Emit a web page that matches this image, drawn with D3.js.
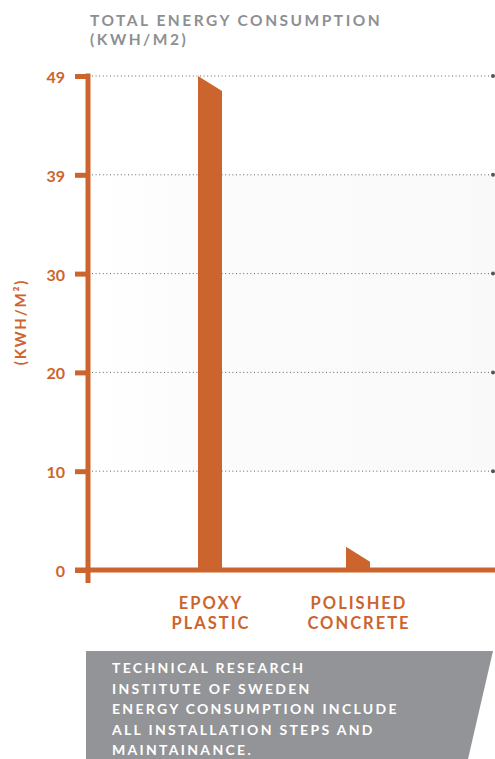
<!DOCTYPE html>
<html>
<head>
<meta charset="utf-8">
<script src="https://cdn.jsdelivr.net/npm/d3@7"></script>
<style>
  html, body { margin: 0; padding: 0; background: #fff; }
  svg { display: block; font-family: Lato, "Open Sans", sans-serif; font-weight: 700; }
</style>
</head>
<body>
<svg id="grafico"></svg>
<script>
// dados do gráfico
const categorias = ['EPOXY PLASTIC', 'POLISHED CONCRETE'];
const rotulosCategoria = [['EPOXY', 'PLASTIC'], ['POLISHED', 'CONCRETE']];
const valores = [49, 2.3];
const ticksValores = [0, 9.8, 19.6, 29.4, 39.2, 49];
const ticksRotulos = ['0', '10', '20', '30', '39', '49'];
const titulo = ['TOTAL ENERGY CONSUMPTION', '(KWH/M2)'];
const rodape = ['TECHNICAL RESEARCH', 'INSTITUTE OF SWEDEN', 'ENERGY CONSUMPTION INCLUDE', 'ALL INSTALLATION STEPS AND', 'MAINTAINANCE.'];

const largura = 495, altura = 759;
const laranja = '#cc642d', cinza = '#8e8f92';

let svg = d3.select('#grafico')
  .attr('width', largura)
  .attr('height', altura);

// escalas
let fnY = d3.scaleLinear().domain([0, 49]).range([570, 76]);
let fnX = d3.scaleBand().domain(categorias).range([136, 432]);
let eixoX = 88;

// fundo levemente cinza
let grad = svg.append('defs').append('linearGradient')
  .attr('id', 'fundo').attr('x1', 0).attr('x2', 1).attr('y1', 0).attr('y2', 0);
grad.append('stop').attr('offset', '0%').attr('stop-color', '#fff');
grad.append('stop').attr('offset', '35%').attr('stop-color', '#fbfbfb');
grad.append('stop').attr('offset', '100%').attr('stop-color', '#f9f9f9');
svg.append('rect')
  .attr('x', eixoX + 3).attr('y', fnY(39.2))
  .attr('width', largura - eixoX - 3).attr('height', fnY(9.8) - fnY(39.2))
  .attr('fill', 'url(#fundo)');

// título (duas linhas)
svg.append('g').selectAll('.titulo').data(titulo).enter().append('text')
  .classed('titulo', true)
  .attr('x', 90).attr('y', (d, i) => 26 + i * 18.5)
  .attr('fill', cinza).style('font-size', '15.5px').style('letter-spacing', '2.5px')
  .text(d => d);

// linhas de grade pontilhadas
let grade = svg.append('g').selectAll('.grade').data(ticksValores.slice(1)).enter().append('g');
grade.append('line')
  .attr('x1', eixoX + 4).attr('x2', 492)
  .attr('y1', d => fnY(d)).attr('y2', d => fnY(d))
  .attr('stroke', '#666').attr('stroke-width', 1).attr('stroke-dasharray', '1,2.6');
grade.append('circle')
  .attr('cx', 493).attr('cy', d => fnY(d)).attr('r', 2).attr('fill', '#555');

// barras com topo inclinado
svg.append('g').selectAll('.barra').data(valores).enter().append('path')
  .classed('barra', true)
  .attr('fill', laranja)
  .attr('d', (d, i) => {
    let x0 = fnX(categorias[i]) + fnX.bandwidth() / 2 - 12;
    let x1 = x0 + 24;
    let topo = fnY(d);
    let base = fnY(0);
    let queda = Math.min(15, base - topo);
    return `M${x0},${topo}L${x1},${topo + queda}L${x1},${base}L${x0},${base}Z`;
  });

// eixo Y
let eixo = d3.axisLeft(fnY)
  .tickValues(ticksValores)
  .tickFormat((d, i) => ticksRotulos[i])
  .tickSize(13)
  .tickPadding(10);
let gEixo = svg.append('g').attr('transform', `translate(${eixoX},0)`).call(eixo);
gEixo.select('.domain').remove();
gEixo.selectAll('.tick line').attr('stroke', laranja).attr('stroke-width', 5);
gEixo.selectAll('.tick text')
  .attr('fill', laranja).attr('dy', '0.4em')
  .style('font-size', '16px').style('font-family', 'Lato, sans-serif').style('font-weight', 700);

// linha vertical e base
svg.append('line')
  .attr('x1', eixoX).attr('x2', eixoX)
  .attr('y1', fnY(49) - 2.5).attr('y2', fnY(0) + 13)
  .attr('stroke', laranja).attr('stroke-width', 5);
svg.append('line')
  .attr('x1', eixoX - 13).attr('x2', largura)
  .attr('y1', fnY(0)).attr('y2', fnY(0))
  .attr('stroke', laranja).attr('stroke-width', 5);

// rótulo do eixo Y
svg.append('text')
  .attr('transform', 'translate(26,322) rotate(-90)')
  .attr('text-anchor', 'middle')
  .attr('fill', laranja).style('font-size', '15px').style('letter-spacing', '1.8px')
  .text('(KWH/M²)');

// rótulos das categorias
let rotulos = svg.append('g').selectAll('.rotulo').data(categorias).enter().append('text')
  .classed('rotulo', true)
  .attr('text-anchor', 'middle')
  .attr('fill', laranja).style('font-size', '16.5px').style('letter-spacing', '2px');
rotulos.selectAll('tspan').data((d, i) => rotulosCategoria[i].map(t => [d, t])).enter().append('tspan')
  .attr('x', d => fnX(d[0]) + fnX.bandwidth() / 2 + 1)
  .attr('y', (d, j) => 609 + j * 20)
  .text(d => d[1]);

// rodapé
svg.append('path')
  .attr('d', 'M86,651L493,651L468,759L86,759Z')
  .attr('fill', '#939497');
svg.append('g').selectAll('.nota').data(rodape).enter().append('text')
  .attr('x', 112).attr('y', (d, i) => 673 + i * 20.6)
  .attr('fill', '#fff').style('font-size', '14px').style('letter-spacing', '2.3px')
  .text(d => d);
</script>
</body>
</html>
